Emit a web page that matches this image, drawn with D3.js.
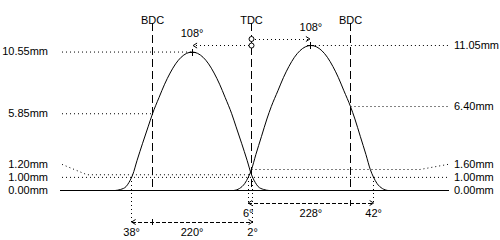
<!DOCTYPE html>
<html>
<head>
<meta charset="utf-8">
<script src="https://cdn.jsdelivr.net/npm/d3@7"></script>
<style>
    body { margin: 0; background: #fff; }
    svg text { font-family: "Liberation Sans", Arial, sans-serif; font-size: 11px; fill: #000; }
</style>
</head>
<body>
<svg id="chart" width="500" height="240"></svg>
<script>
/********** data **********/

// crank angle in degrees, 0 = TDC (overlap), lift in mm
var exhaustAngle = [-248, -238, -228, -223, -218, -216, -208, -198, -188, -180, -168, -158, -148, -138, -128, -118, -108,
    -98, -88, -78, -68, -58, -48, -36, -28, -18, -8, 0, 2, 7, 12, 22, 32];
var exhaustLift = [0, 0.08, 0.3, 0.6, 1.0, 1.2, 2.3, 3.6, 4.85, 5.85, 7.1, 8.1, 8.95, 9.65, 10.15, 10.45, 10.55,
    10.45, 10.15, 9.65, 8.95, 8.1, 7.1, 5.85, 4.85, 3.6, 2.3, 1.2, 1.0, 0.6, 0.3, 0.08, 0];

var intakeAngle = [-32, -22, -12, -6, 0, 8, 18, 28, 36, 48, 58, 68, 78, 88, 98, 108,
    118, 128, 138, 148, 158, 168, 180, 188, 198, 208, 216, 222, 228, 238, 248];
var intakeLift = [0, 0.15, 0.55, 1.0, 1.6, 2.75, 4.1, 5.45, 6.4, 7.6, 8.6, 9.45, 10.15, 10.65, 10.95, 11.05,
    10.95, 10.65, 10.15, 9.45, 8.6, 7.6, 6.4, 5.45, 4.1, 2.75, 1.6, 1.0, 0.55, 0.15, 0];

var deadCentreNames = ["BDC", "TDC", "BDC"];
var deadCentreAngles = [-180, 0, 180];

// lift marks: value, and the angle where the dotted leader stops (null = across)
var leftMarks = [10.55, 5.85, 1.20, 1.00, 0.00];
var leftMarkEnds = [-108, -180, 0, null, null];
var rightMarks = [11.05, 6.40, 1.60, 1.00, 0.00];
var rightMarkEnds = [108, 180, 0, null, null];

var peakAngles = [-108, 108];
var peakLifts = [10.55, 11.05];
var peakLabels = ["108°", "108°"];

// timing at 1 mm: open, close, duration
var intakeTiming = { open: -6, close: 222, bdc: 180, labels: ["6°", "228°", "42°"] };
var exhaustTiming = { open: -218, close: 2, bdc: -180, labels: ["38°", "220°", "2°"] };

/********** drawing **********/

var svg = d3.select("#chart");
var x = d3.scaleLinear().domain([-180, 180]).range([152.5, 350.5]);
var y = d3.scaleLinear().domain([0, 11.05]).range([190.5, 45.5]);

var leftEdge = 62, rightEdge = 448;
var dots = "1,3";

function line(x1, y1, x2, y2, dash) {
    return svg.append("line")
        .attr("x1", x1).attr("y1", y1).attr("x2", x2).attr("y2", y2)
        .attr("stroke", "#000").attr("stroke-width", 1)
        .attr("stroke-dasharray", dash || null)
        .attr("shape-rendering", "crispEdges");
}

function text(str, tx, ty, anchor) {
    svg.append("text").attr("x", tx).attr("y", ty).attr("dy", "0.35em")
        .attr("text-anchor", anchor || "middle").text(str);
}

function arrowHead(tx, ty, dir) {
    // dir -1 points left, 1 points right
    svg.append("path")
        .attr("d", "M" + (tx - dir * 4) + "," + (ty - 2.5) + "L" + tx + "," + ty + "L" + (tx - dir * 4) + "," + (ty + 2.5))
        .attr("fill", "none").attr("stroke", "#000");
}

// label y: keep labels at least 13px apart, pushing upward
function labelYs(marks) {
    var ys = marks.map(function (m) { return y(m); });
    for (var i = ys.length - 2; i >= 0; i--) {
        if (ys[i + 1] - ys[i] < 13) ys[i] = ys[i + 1] - 13;
    }
    return ys;
}

// baseline
line(leftEdge - 2, y(0), rightEdge + 1, y(0));

// dead centres
deadCentreAngles.forEach(function (a, i) {
    line(x(a), 23, x(a), 187, "8,4");
    text(deadCentreNames[i], x(a), 20);
});

// left lift marks
var lys = labelYs(leftMarks);
leftMarks.forEach(function (m, i) {
    text(m.toFixed(2) + "mm", 48, lys[i] - 0.5, "end");
    if (m === 0) return;
    var endX = leftMarkEnds[i] === null ? rightEdge : x(leftMarkEnds[i]);
    var pts = [[leftEdge, lys[i]]];
    if (Math.abs(lys[i] - y(m)) > 1) pts.push([leftEdge + 25, y(m)]);
    else pts[0][1] = y(m);
    pts.push([endX, y(m)]);
    svg.append("path").attr("d", d3.line()(pts)).attr("fill", "none")
        .attr("stroke", "#000").attr("stroke-dasharray", dots);
});

// right lift marks
var rys = labelYs(rightMarks);
rightMarks.forEach(function (m, i) {
    text(m.toFixed(2) + "mm", 454, rys[i] - 0.5, "start");
    if (m === 0 || rightMarkEnds[i] === null) return;
    var pts = [[x(rightMarkEnds[i]), y(m)]];
    if (Math.abs(rys[i] - y(m)) > 1) {
        pts.push([rightEdge - 28, y(m)]);
        pts.push([rightEdge, rys[i]]);
    } else {
        pts.push([rightEdge, y(m)]);
    }
    svg.append("path").attr("d", d3.line()(pts)).attr("fill", "none")
        .attr("stroke", "#000").attr("stroke-dasharray", dots);
});

// lift curves
var liftLine = d3.line()
    .x(function (d) { return x(d[0]); })
    .y(function (d) { return y(d[1]); })
    .curve(d3.curveMonotoneX);

svg.append("path").attr("d", liftLine(d3.zip(exhaustAngle, exhaustLift)))
    .attr("fill", "none").attr("stroke", "#000");
svg.append("path").attr("d", liftLine(d3.zip(intakeAngle, intakeLift)))
    .attr("fill", "none").attr("stroke", "#000");

// peaks: cross, dotted arrow from TDC, angle label
peakAngles.forEach(function (a, i) {
    var px = x(a), py = y(peakLifts[i]);
    line(px - 3.5, py, px + 3.5, py);
    line(px, py - 3.5, px, py + 3.5);
    var ay = py - 6.5;
    var dir = a < 0 ? -1 : 1;
    var tip = px - dir * 1;
    line(x(0) + dir * 3, ay, tip, ay, dots);
    arrowHead(tip, ay, dir);
    svg.append("circle").attr("cx", x(0)).attr("cy", ay).attr("r", 2.5)
        .attr("fill", "#fff").attr("stroke", "#000");
    text(peakLabels[i], px, ay - 12);
});

// timing dimensions
function timing(t, rowY) {
    var x1 = x(t.open), x2 = x(t.close);
    line(x1, y(1), x1, rowY, dots);
    line(x2, y(1), x2, rowY, dots);
    line(x1, rowY, x2, rowY, "4,2");
    arrowHead(x1, rowY, -1);
    arrowHead(x2, rowY, 1);
    line(x(t.bdc), rowY - 3, x(t.bdc), rowY + 3);
    text(t.labels[0], x1, rowY + 10);
    text(t.labels[1], (x1 + x2) / 2, rowY + 10);
    text(t.labels[2], x2, rowY + 10);
}
timing(intakeTiming, 203);
timing(exhaustTiming, 222);
</script>
</body>
</html>
